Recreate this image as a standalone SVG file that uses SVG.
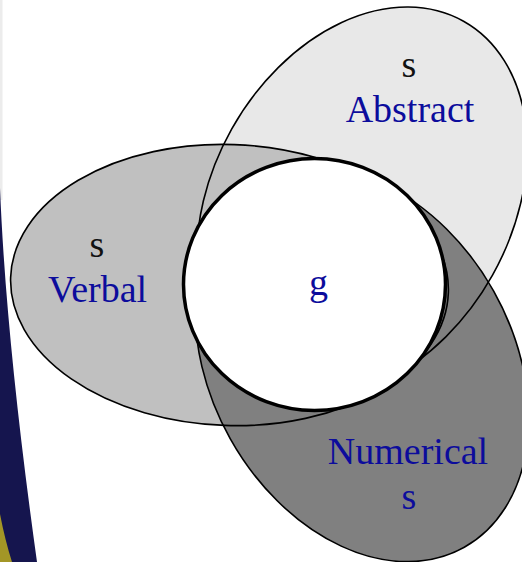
<svg xmlns="http://www.w3.org/2000/svg" width="522" height="562" viewBox="0 0 522 562">
  <style>
    .lbl { font-family: "Liberation Serif", "Times New Roman", serif; font-size: 38px; text-anchor: middle; }
    .blue { fill: #0c0c9c; }
    .black { fill: #111111; }
    .line { fill: none; stroke: #000000; stroke-width: 1.6; }
  </style>
  <defs>
    <ellipse id="eA" cx="0" cy="0" rx="207.5" ry="149.5" transform="translate(362 202.2) rotate(-60.7)"/>
    <ellipse id="eV" cx="0" cy="0" rx="219" ry="140.5" transform="translate(229.5 285) rotate(2)"/>
    <ellipse id="eN" cx="0" cy="0" rx="209" ry="151" transform="translate(362 365) rotate(60.7)"/>
  </defs>
  <rect x="0" y="0" width="522" height="562" fill="#ffffff"/>
  <g id="background-band">
    <rect x="0" y="0" width="2.5" height="200" fill="#ececec"/>
    <path d="M0,188 Q6,340 37,562 L0,562 Z" fill="#15154e"/>
    <path d="M0,514 Q5,540 12,562 L0,562 Z" fill="#a39626"/>
  </g>
  <g id="abstract">
    <use href="#eA" fill="#e8e8e8"/>
    <text class="lbl black" x="409" y="77">s</text>
    <text class="lbl blue" x="410" y="121.7">Abstract</text>
  </g>
  <g id="verbal">
    <use href="#eV" fill="#c0c0c0"/>
    <text class="lbl black" x="97" y="256.7">s</text>
    <text class="lbl blue" x="97.5" y="301.7">Verbal</text>
  </g>
  <g id="numerical">
    <use href="#eN" fill="#808080"/>
    <text class="lbl blue" x="408" y="464.3">Numerical</text>
    <text class="lbl blue" x="409" y="509">s</text>
  </g>
  <g id="outlines">
    <use href="#eA" class="line"/>
    <use href="#eV" class="line"/>
    <use href="#eN" class="line"/>
  </g>
  <g id="g">
    <ellipse cx="314.5" cy="284.5" rx="131" ry="126" fill="#ffffff" stroke="#000000" stroke-width="3.5"/>
    <text class="lbl blue" x="318.5" y="295">g</text>
  </g>
  <g id="connectors"/>
</svg>
